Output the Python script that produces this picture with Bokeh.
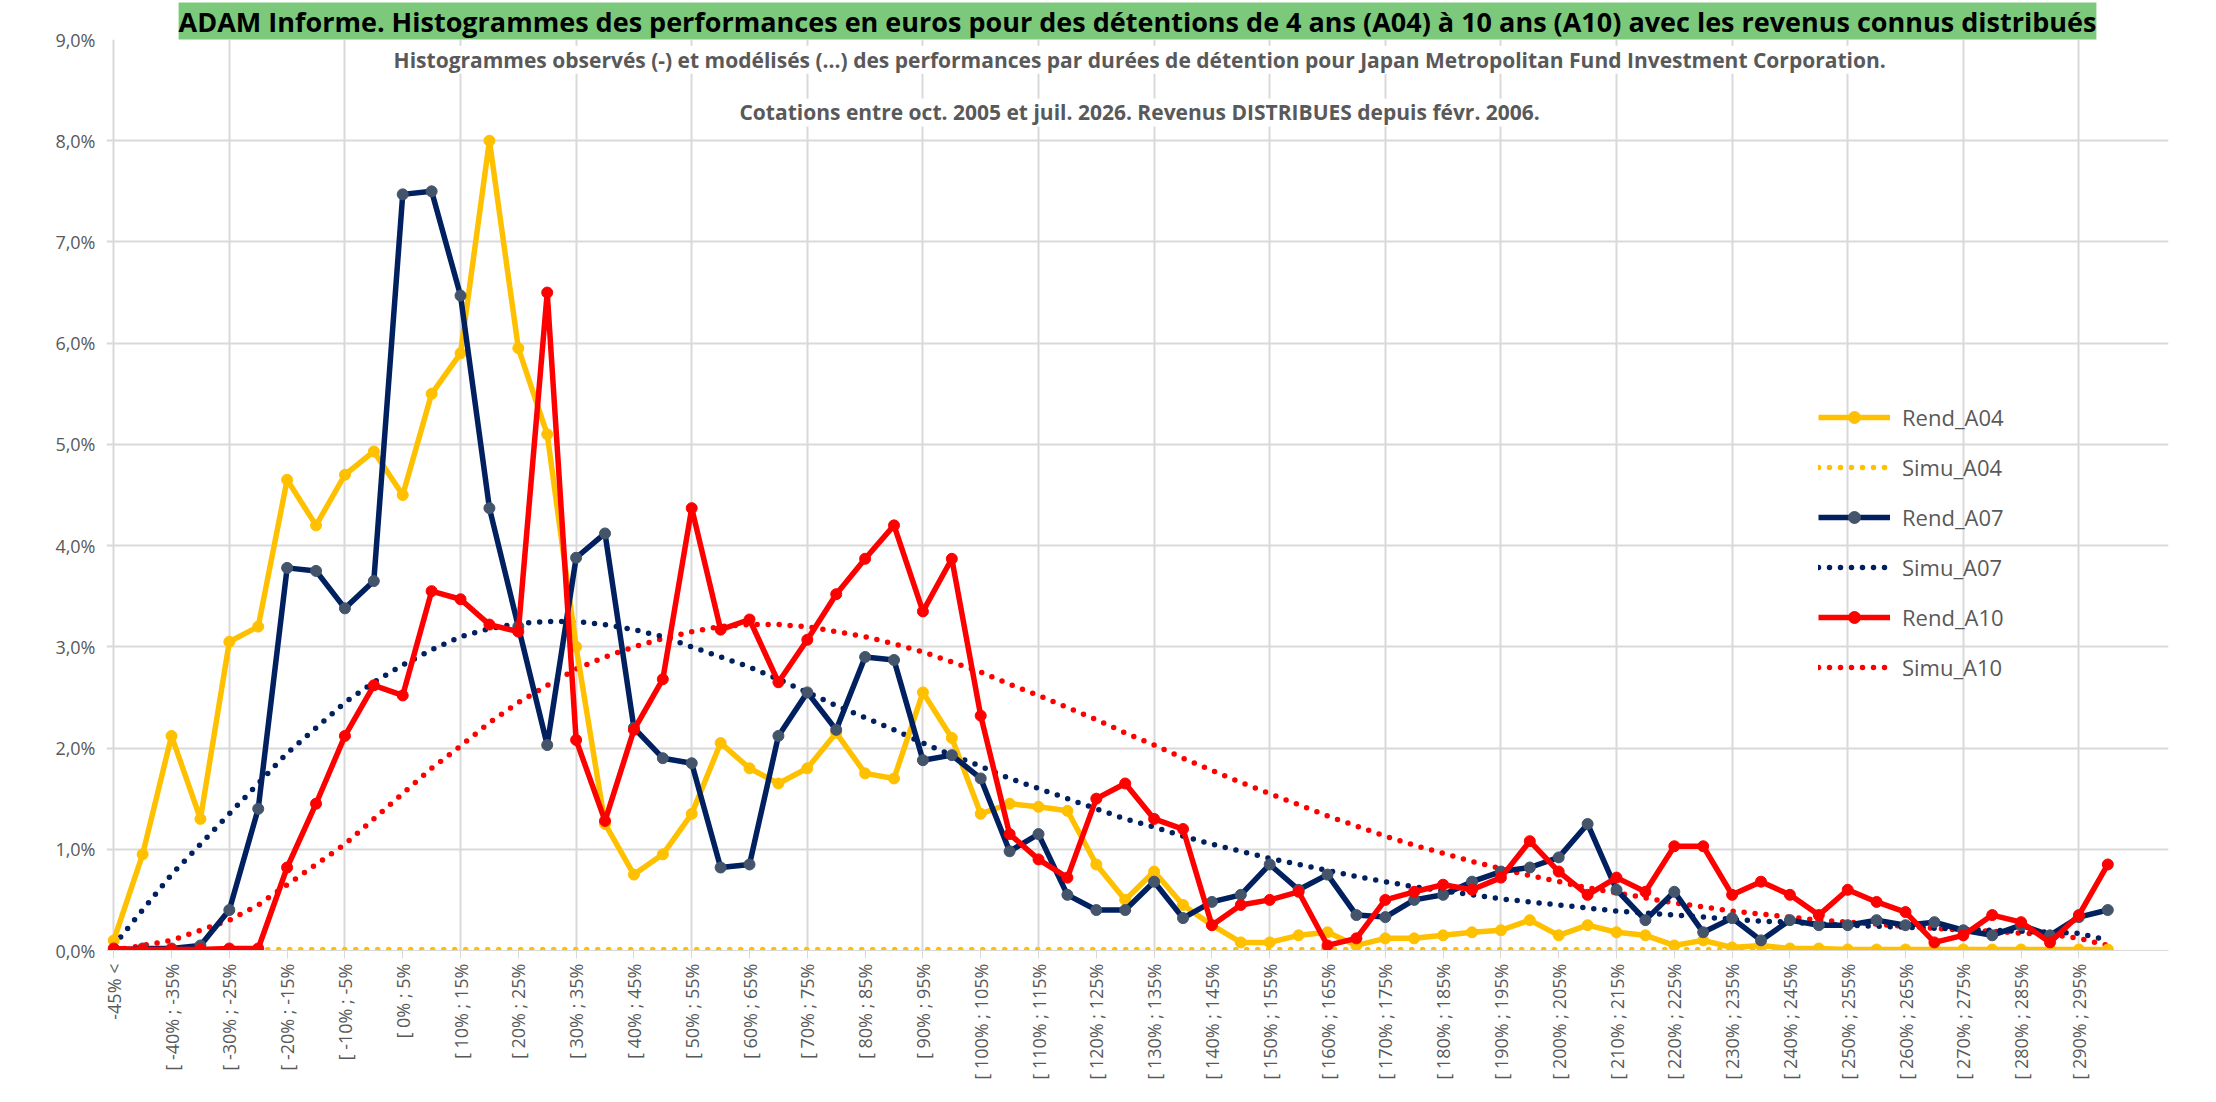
from bokeh.plotting import figure
from bokeh.models import FixedTicker, Legend, LegendItem, Label, Title, Range1d
from bokeh.embed import file_html
from bokeh.resources import INLINE

cats = ["-45% <"] + ["[ %s%% ; %s%%" % (-50 + 5 * k, -45 + 5 * k) for k in range(1, 70)]

rend_a04 = [0.1,0.95,2.12,1.3,3.05,3.2,4.65,4.2,4.7,4.93,4.5,5.5,5.9,8.0,5.95,5.1,3.0,1.25,0.75,0.95,
            1.35,2.05,1.8,1.65,1.8,2.15,1.75,1.7,2.55,2.1,1.35,1.45,1.42,1.38,0.85,0.5,0.78,0.45,0.25,0.08,
            0.08,0.15,0.18,0.05,0.12,0.12,0.15,0.18,0.2,0.3,0.15,0.25,0.18,0.15,0.05,0.1,0.03,0.05,0.02,0.02,
            0.01,0.01,0.01,0.01,0.01,0.01,0.01,0.01,0.01,0.01]
simu_a04 = [0.01] * 70
rend_a07 = [0.0,0.02,0.02,0.05,0.4,1.4,3.78,3.75,3.38,3.65,7.47,7.5,6.47,4.37,3.2,2.03,3.88,4.12,2.2,1.9,
            1.85,0.82,0.85,2.12,2.55,2.18,2.9,2.87,1.88,1.93,1.7,0.98,1.15,0.55,0.4,0.4,0.68,0.32,0.48,0.55,
            0.85,0.6,0.75,0.35,0.33,0.5,0.55,0.68,0.78,0.82,0.92,1.25,0.6,0.3,0.58,0.18,0.32,0.1,0.3,0.25,
            0.25,0.3,0.25,0.28,0.2,0.15,0.25,0.15,0.33,0.4]
simu_a07 = [0.05,0.4,0.75,1.05,1.35,1.65,1.95,2.2,2.45,2.65,2.82,2.97,3.1,3.18,3.23,3.25,3.25,3.22,3.17,3.1,
            3.0,2.9,2.8,2.68,2.55,2.42,2.3,2.18,2.05,1.93,1.82,1.7,1.6,1.5,1.4,1.3,1.22,1.13,1.05,0.98,
            0.91,0.85,0.79,0.73,0.68,0.63,0.59,0.55,0.51,0.48,0.45,0.42,0.39,0.37,0.35,0.33,0.31,0.29,0.28,0.26,
            0.25,0.24,0.23,0.22,0.21,0.2,0.19,0.18,0.17,0.1]
rend_a10 = [0.02,0.01,0.01,0.01,0.02,0.02,0.82,1.45,2.12,2.62,2.52,3.55,3.47,3.22,3.15,6.5,2.08,1.28,2.18,2.68,
            4.37,3.17,3.27,2.65,3.07,3.52,3.87,4.2,3.35,3.87,2.32,1.15,0.9,0.72,1.5,1.65,1.3,1.2,0.25,0.45,
            0.5,0.58,0.05,0.12,0.5,0.58,0.65,0.6,0.72,1.08,0.78,0.55,0.72,0.58,1.03,1.03,0.55,0.68,0.55,0.35,
            0.6,0.48,0.38,0.08,0.15,0.35,0.28,0.08,0.35,0.85]
simu_a10 = [0.0,0.05,0.1,0.2,0.3,0.45,0.65,0.85,1.05,1.3,1.55,1.8,2.02,2.25,2.45,2.62,2.78,2.9,3.0,3.08,
            3.15,3.2,3.22,3.22,3.2,3.15,3.1,3.03,2.95,2.85,2.75,2.63,2.52,2.4,2.28,2.15,2.03,1.9,1.78,1.66,
            1.55,1.44,1.33,1.23,1.13,1.04,0.96,0.88,0.81,0.74,0.68,0.62,0.57,0.52,0.47,0.43,0.39,0.36,0.33,0.3,
            0.28,0.26,0.24,0.22,0.2,0.19,0.17,0.16,0.12,0.05]
y_ticks = [0, 1, 2, 3, 4, 5, 6, 7, 8, 9]

xs = list(range(len(cats)))
FONT = "Open Sans"
GREY = "#595959"

p = figure(width=2196, height=1082, output_backend="svg", toolbar_location=None,
           x_range=Range1d(-0.25, 71.1), y_range=Range1d(0, 9.0),
           min_border_left=106, min_border_right=28, min_border_top=30, min_border_bottom=20)
p.outline_line_color = None
p.border_fill_color = "white"

t = Title(text="ADAM Informe. Histogrammes des performances en euros pour des détentions de 4 ans (A04) à 10 ans (A10) avec les revenus connus distribués",
          text_font=FONT, text_font_size="27px", text_font_style="bold", text_color="black",
          background_fill_color="#7cc97c", align="center", standoff=0, offset=0)
p.add_layout(t, "above")

p.xaxis.ticker = FixedTicker(ticks=xs[::2])
p.xaxis.major_label_overrides = {i: cats[i] for i in xs}
p.xaxis.major_label_orientation = 1.5708
p.xaxis.major_label_text_font = FONT
p.xaxis.major_label_text_font_size = "18px"
p.xaxis.major_label_text_color = GREY
p.xaxis.axis_line_color = "#d9d9d9"
p.xaxis.major_tick_line_color = "#d9d9d9"
p.xaxis.major_tick_in = 0
p.xaxis.major_tick_out = 8
p.xaxis.minor_tick_line_color = None

p.yaxis.ticker = FixedTicker(ticks=y_ticks)
p.yaxis.major_label_overrides = {v: ("%.1f%%" % v).replace(".", ",") for v in y_ticks}
p.yaxis.major_label_text_font = FONT
p.yaxis.major_label_text_font_size = "18px"
p.yaxis.major_label_text_color = GREY
p.yaxis.axis_line_color = None
p.yaxis.major_tick_line_color = None
p.yaxis.minor_tick_line_color = None

p.xgrid.ticker = FixedTicker(ticks=[i for i in xs if i % 4 == 0] + [72])
p.xgrid.grid_line_color = "#d9d9d9"
p.xgrid.grid_line_width = 2
p.ygrid.grid_line_color = "#d9d9d9"
p.ygrid.grid_line_width = 2

items = []
def solid(y, color, mcolor, name):
    r1 = p.line(xs, y, line_color=color, line_width=5.5, line_join="round")
    r2 = p.scatter(xs, y, size=11, fill_color=mcolor, line_color=mcolor)
    items.append(LegendItem(label=name, renderers=[r1, r2]))
def dotted(y, color, name):
    r = p.line(xs, y, line_color=color, line_width=5.5, line_dash="0 11", line_cap="round")
    items.append(LegendItem(label=name, renderers=[r]))

dotted(simu_a10, "#ff0000", "Simu_A10")
dotted(simu_a07, "#002060", "Simu_A07")
dotted(simu_a04, "#ffc000", "Simu_A04")
solid(rend_a04, "#ffc000", "#ffc000", "Rend_A04")
solid(rend_a07, "#002060", "#44546a", "Rend_A07")
solid(rend_a10, "#ff0000", "#ff0000", "Rend_A10")

order = ["Rend_A04", "Simu_A04", "Rend_A07", "Simu_A07", "Rend_A10", "Simu_A10"]
items = sorted(items, key=lambda it: order.index(it.label.value))
leg = Legend(items=items, location=(1712, 268), border_line_color=None,
             background_fill_alpha=0.0, label_text_font=FONT, label_text_font_size="22px",
             label_text_color=GREY, glyph_width=72, glyph_height=30, spacing=20,
             label_standoff=12)
p.add_layout(leg)

for txt, yy in [("Histogrammes observés (-) et modélisés (...) des performances par durées de détention pour Japan Metropolitan Fund Investment Corporation.", 8.8),
                ("Cotations entre oct. 2005 et juil. 2026. Revenus DISTRIBUES depuis févr. 2006.", 8.28)]:
    p.add_layout(Label(x=35.5, y=yy, text=txt, text_align="center", text_baseline="middle",
                       text_font=FONT, text_font_size="21px", text_font_style="bold",
                       text_color=GREY, background_fill_color="white"))

open("out.html", "w").write(file_html(p, INLINE))
